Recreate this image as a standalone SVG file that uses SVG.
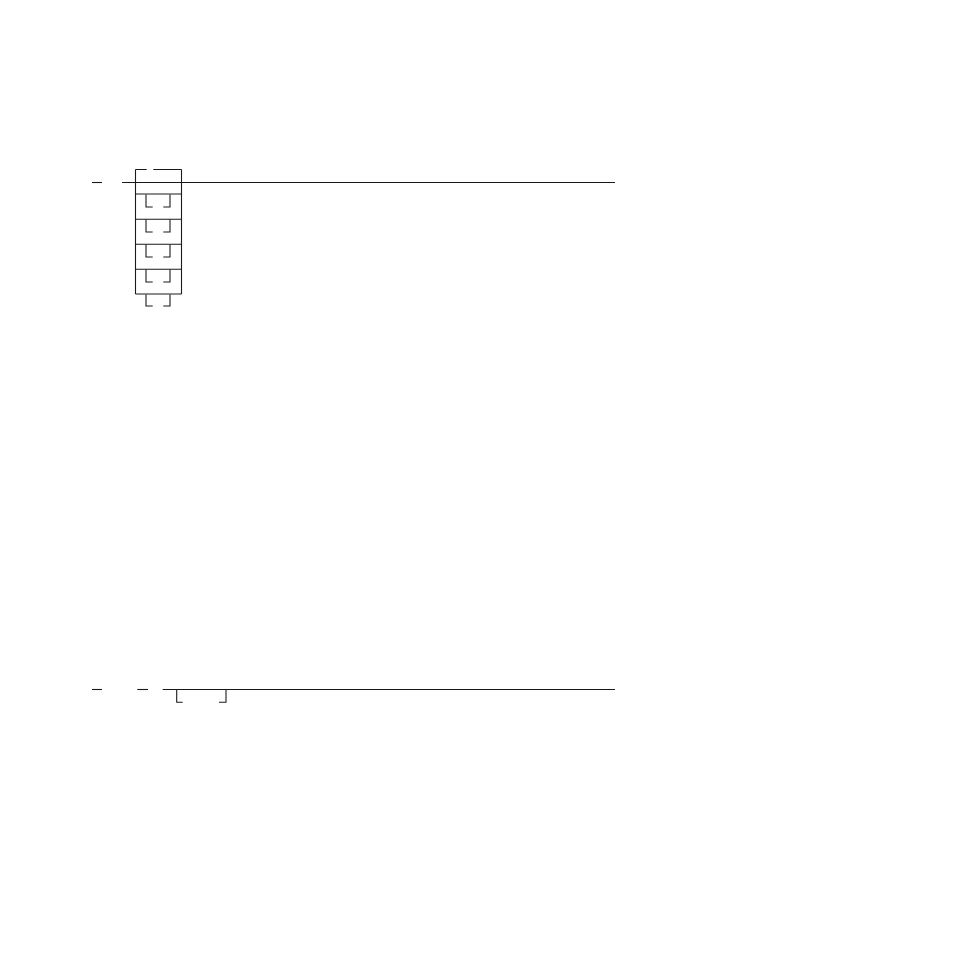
<svg xmlns="http://www.w3.org/2000/svg" width="954" height="954" viewBox="0 0 954 954">
<style>
.l{stroke:#1a1a1a;stroke-width:1.1;fill:none;stroke-linecap:butt}
</style>
<rect width="954" height="954" fill="#ffffff"/>
<g id="connectors" class="l">
<path d="M92,182.5H102"/>
<path d="M122,182.5H615"/>
<path d="M135.5,169.5H146.7M153.3,169.5H181.5"/>
<path d="M135.5,169.5V294"/>
<path d="M181.5,169.5V294"/>
<path d="M135.5,194H181.5M135.5,219.3H181.5M135.5,244.3H181.5M135.5,269.3H181.5M135.5,294H181.5"/>
<path d="M146,194.5V207H152.7M163.3,207H170V194.5"/>
<path d="M146,219.5V232H152.7M163.3,232H170V219.5"/>
<path d="M146,244.5V257H152.7M163.3,257H170V244.5"/>
<path d="M146,269.5V282H152.7M163.3,282H170V269.5"/>
<path d="M146,294.5V306H152.7M163.3,306H170V294.5"/>
<path d="M92,689.5H102"/>
<path d="M137.3,689.5H148"/>
<path d="M162.7,689.5H615"/>
<path d="M176.7,689.5V702.3H182.7M219,702.3H226V689.5"/>
</g>
</svg>
